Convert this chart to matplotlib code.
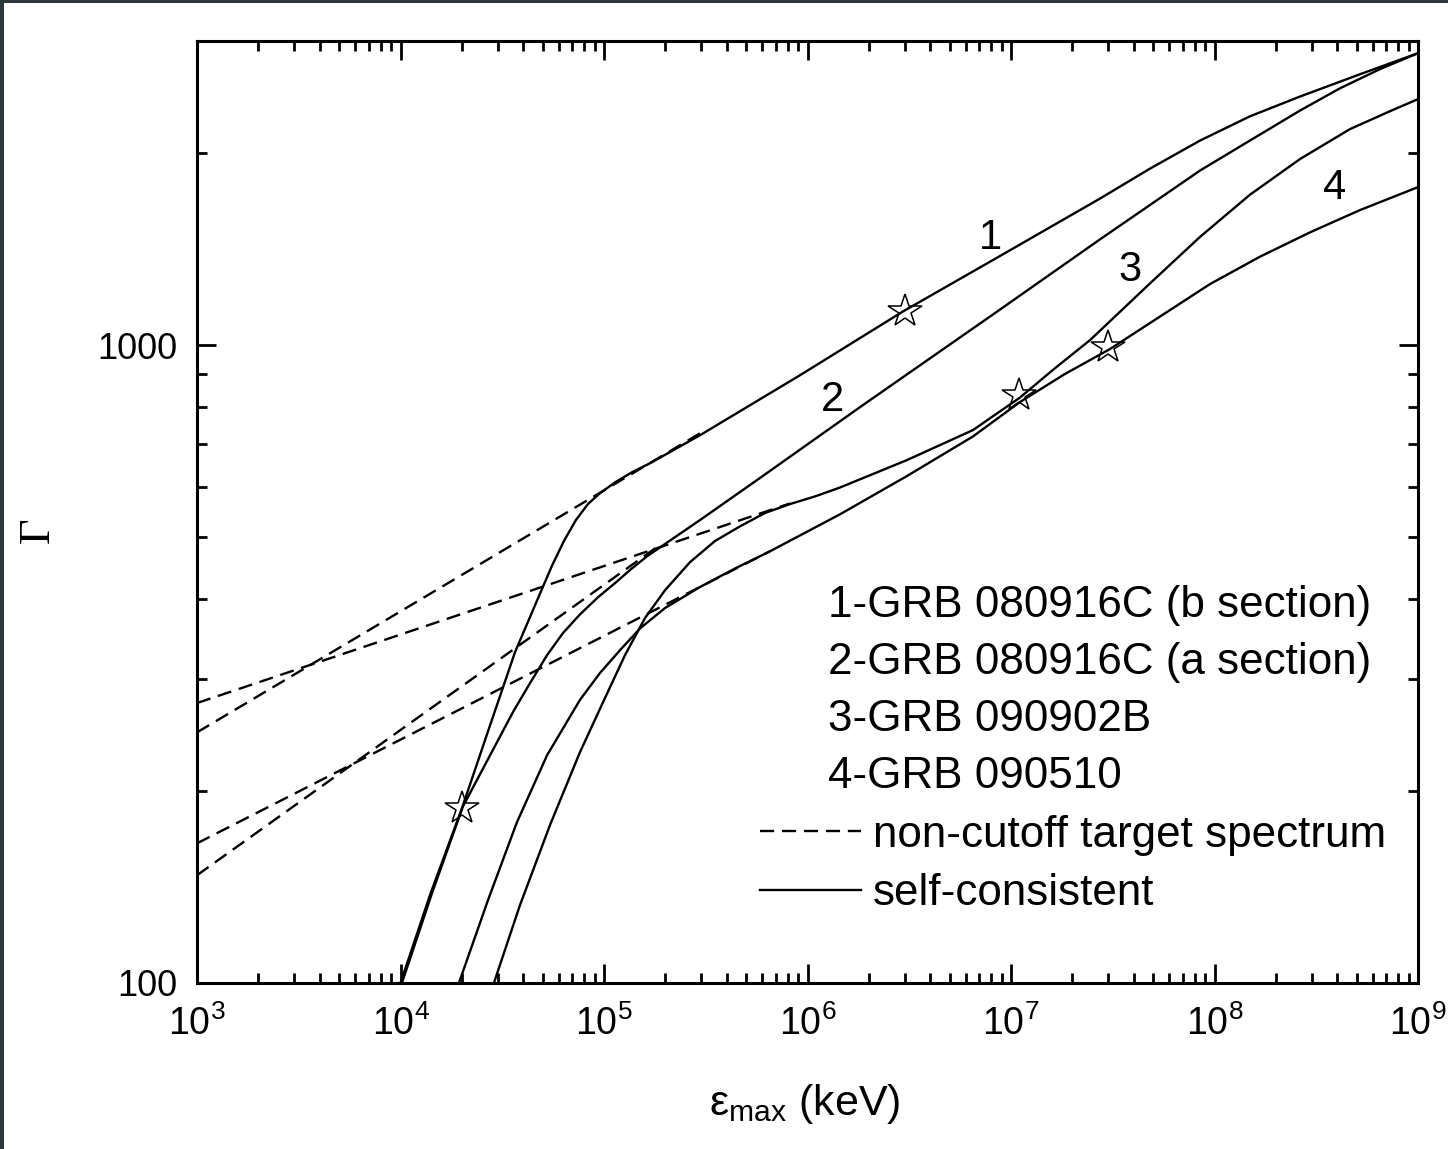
import matplotlib
matplotlib.use("Agg")
import matplotlib.pyplot as plt
import numpy as np
from matplotlib.lines import Line2D
from matplotlib.patches import Rectangle
from matplotlib.ticker import NullFormatter

plt.rcParams['font.family'] = ['Liberation Sans', 'DejaVu Sans']
plt.rcParams['mathtext.fontset'] = 'custom'
plt.rcParams['mathtext.rm'] = 'Liberation Sans'
plt.rcParams['mathtext.it'] = 'Liberation Sans:italic'
plt.rcParams['mathtext.bf'] = 'Liberation Sans:bold'

# values, as log10(eps_max / keV) and log10(Gamma)
# self-consistent solutions
c1_lx = [4.000, 4.145, 4.302, 4.440, 4.563, 4.686, 4.744, 4.803, 4.862, 4.921, 4.980,
         5.054, 5.138, 5.226, 5.472, 5.963, 6.469, 6.946, 7.437, 7.683, 7.929, 8.174,
         8.420, 8.715, 9.000]
c1_ly = [2.000, 2.138, 2.274, 2.404, 2.519, 2.611, 2.654, 2.693, 2.726, 2.751, 2.768,
         2.785, 2.801, 2.815, 2.859, 2.953, 3.053, 3.140, 3.230, 3.277, 3.321, 3.359,
         3.390, 3.425, 3.458]

c2_lx = [4.007, 4.155, 4.307, 4.440, 4.553, 4.636, 4.720, 4.799, 4.882, 4.971, 5.054,
         5.133, 5.211, 5.472, 5.767, 6.258, 6.946, 7.437, 7.929, 8.174, 8.420, 8.617,
         8.813, 9.000]
c2_ly = [2.000, 2.141, 2.277, 2.357, 2.425, 2.470, 2.514, 2.549, 2.578, 2.605, 2.627,
         2.649, 2.669, 2.726, 2.792, 2.903, 3.056, 3.166, 3.274, 3.321, 3.368, 3.403,
         3.433, 3.458]

c3_lx = [4.459, 4.587, 4.735, 4.882, 5.005, 5.103, 5.201, 5.300, 5.423, 5.545, 5.668,
         5.791, 5.914, 6.037, 6.160, 6.489, 6.813, 7.044, 7.216, 7.388, 7.683, 7.929,
         8.174, 8.420, 8.666, 8.862, 9.000]
c3_ly = [2.000, 2.122, 2.248, 2.362, 2.447, 2.514, 2.572, 2.616, 2.660, 2.693, 2.716,
         2.737, 2.751, 2.763, 2.777, 2.820, 2.867, 2.918, 2.964, 3.008, 3.097, 3.170,
         3.236, 3.292, 3.339, 3.367, 3.386]

c4_lx = [4.287, 4.430, 4.572, 4.720, 4.882, 4.980, 5.079, 5.177, 5.300, 5.472, 5.644,
         5.816, 6.160, 6.489, 6.813, 7.044, 7.265, 7.486, 7.732, 7.978, 8.224, 8.469,
         8.715, 9.000]
c4_ly = [2.000, 2.130, 2.252, 2.357, 2.444, 2.486, 2.522, 2.556, 2.588, 2.621, 2.650,
         2.677, 2.735, 2.795, 2.857, 2.911, 2.955, 2.994, 3.045, 3.096, 3.139, 3.177,
         3.212, 3.248]

# non-cutoff target spectrum (straight in log-log), start and merge point
d1_lx, d1_ly = [3.0, 5.472], [2.393, 2.862]
d2_lx, d2_ly = [3.0, 5.275], [2.169, 2.687]
d3_lx, d3_ly = [3.0, 5.914], [2.439, 2.752]
d4_lx, d4_ly = [3.0, 5.816], [2.219, 2.677]

# stars
star_x = [2.0e4, 3.0e6, 1.1e7, 3.0e7]
star_y = [188, 1130, 836, 993]

curve_labels = ['1', '2', '3', '4']
label_x = [7.9e6, 1.33e6, 3.85e7, 3.9e8]
label_y = [1472, 820, 1312, 1762]

legend_names = ['1-GRB 080916C (b section)', '2-GRB 080916C (a section)',
                '3-GRB 090902B', '4-GRB 090510']

x_major = [1e3, 1e4, 1e5, 1e6, 1e7, 1e8, 1e9]
y_major = [100, 1000]
y_minor = [200, 300, 400, 500, 600, 700, 800, 900, 2000, 3000]

solid = [(c1_lx, c1_ly), (c2_lx, c2_ly), (c3_lx, c3_ly), (c4_lx, c4_ly)]
dashed = [(d1_lx, d1_ly), (d2_lx, d2_ly), (d3_lx, d3_ly), (d4_lx, d4_ly)]

DASH = (0, (6.0, 3.3))
LW = 1.7

fig = plt.figure(figsize=(14.48, 11.49), dpi=100)
fig.patch.set_facecolor('#2d383c')
fig.add_artist(Rectangle((4 / 1448, 0), 1, 1 - 3 / 1149, transform=fig.transFigure,
                         facecolor='white', edgecolor='none', zorder=-5))
ax = fig.add_axes([197 / 1448, 1 - 983 / 1149, 1221 / 1448, 942 / 1149])

for lx, ly in dashed:
    ax.plot(10 ** np.array(lx), 10 ** np.array(ly), color='k', lw=LW, ls=DASH)
for lx, ly in solid:
    ax.plot(10 ** np.array(lx), 10 ** np.array(ly), color='k', lw=LW,
            solid_joinstyle='round')
ax.plot(star_x, star_y, ls='none', marker='*', ms=25, mfc='none', mec='k', mew=1.1)

for s, x, y in zip(curve_labels, label_x, label_y):
    ax.text(x, y, s, fontsize=30, ha='center', va='center')

ax.set_xscale('log')
ax.set_yscale('log')
ax.set_xlim(1e3, 1e9)
ax.set_ylim(100, 3000)

ax.set_xticks(x_major)
ax.set_xticks([m * d for d in x_major[:-1] for m in range(2, 10)], minor=True)
ax.xaxis.set_minor_formatter(NullFormatter())
ax.set_yticks(y_major, labels=[str(v) for v in y_major])
ax.set_yticks(y_minor, minor=True)
ax.yaxis.set_minor_formatter(NullFormatter())

ax.tick_params(which='both', direction='in', top=True, right=True, width=2.0,
               labelsize=26)
ax.tick_params(which='major', length=14)
ax.tick_params(which='minor', length=7)
ax.tick_params(axis='x', which='major', pad=16, labelsize=27)
ax.tick_params(axis='y', which='major', pad=14)
for sp in ax.spines.values():
    sp.set_linewidth(2.2)

ax.set_xlabel(r'ε$_{\mathrm{max}}$ (keV)', fontsize=31)
ax.xaxis.set_label_coords(0.498, -0.105)
ax.set_ylabel('Γ', fontsize=32, family=['Liberation Serif', 'DejaVu Serif'])
ax.yaxis.set_label_coords(-0.114, 0.481)

for i, name in enumerate(legend_names):
    ax.text(0.5168, 0.4003 - 0.0605 * i, name, transform=ax.transAxes,
            fontsize=31.7, ha='left', va='center')

handles = [Line2D([], [], color='k', lw=LW, ls=DASH), Line2D([], [], color='k', lw=LW)]
ax.legend(handles, ['non-cutoff target spectrum', 'self-consistent'],
          loc='upper left', bbox_to_anchor=(0.461, 0.1785), frameon=False,
          fontsize=31.7, borderpad=0, borderaxespad=0, handlelength=2.29,
          handletextpad=0.27, labelspacing=0.4)

fig.savefig('out.png', dpi=100, facecolor=fig.get_facecolor())
